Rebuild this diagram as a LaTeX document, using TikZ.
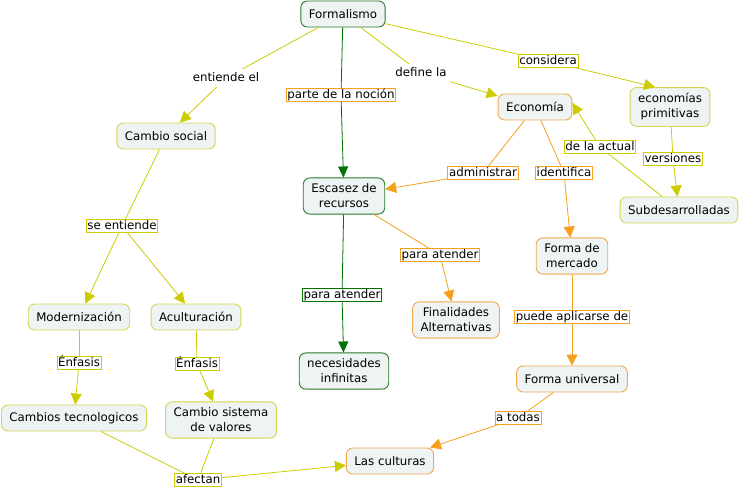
\documentclass[tikz,border=0pt]{standalone}
\usepackage{fontspec}
\setmainfont{DejaVu Sans}
\usetikzlibrary{arrows.meta}
\definecolor{yl}{RGB}{204,204,0}
\definecolor{ylb}{RGB}{214,214,80}
\definecolor{og}{RGB}{245,160,30}
\definecolor{ogb}{RGB}{240,170,80}
\definecolor{gn}{RGB}{0,115,0}
\definecolor{gnb}{RGB}{40,120,40}
\definecolor{nfill}{RGB}{238,243,243}
\tikzset{
  concept/.style={rounded corners=6.5pt, fill=nfill, line width=0.9pt, inner xsep=8pt, inner ysep=6pt,
    minimum height=26pt, align=center, font=\fontsize{11.8}{15}\selectfont},
  cy/.style={concept, draw=ylb},
  co/.style={concept, draw=ogb},
  cg/.style={concept, draw=gnb},
  lab/.style={fill=white, line width=0.7pt, inner xsep=1.2pt, inner ysep=0.6pt,
    text height=9pt, text depth=2.4pt, font=\fontsize{11.8}{14}\selectfont},
  ly/.style={lab, draw=yl},
  lo/.style={lab, draw=og},
  lg/.style={lab, draw=gn},
  lnone/.style={lab, fill=none, inner sep=3pt},
  ey/.style={draw=yl, line width=0.8pt},
  eo/.style={draw=og, line width=0.8pt},
  eg/.style={draw=gn, line width=0.8pt},
  ay/.style={ey, -{Triangle[length=11pt,width=11pt]}},
  ao/.style={eo, -{Triangle[length=11pt,width=11pt]}},
  ag/.style={eg, -{Triangle[length=11pt,width=10pt]}},
}
\begin{document}
\begin{tikzpicture}[x=1pt,y=-1pt]
\useasboundingbox[fill=white] (0,0) rectangle (741,488);
% concepts
\node[cg] (form) at (343,14) {Formalismo};
\node[cy] (csoc) at (166,136) {Cambio social};
\node[cg] (esc) at (344,196) {Escasez de\\recursos};
\node[co] (econ) at (535,107) {Economía};
\node[cy] (prim) at (670,107) {economías\\primitivas};
\node[cy] (subd) at (679,210) {Subdesarrolladas};
\node[co] (fmer) at (572,256) {Forma de\\mercado};
\node[co] (fin) at (456,320) {Finalidades\\Alternativas};
\node[cg] (nec) at (344,371) {necesidades\\infinitas};
\node[cy] (mod) at (79,317) {Modernización};
\node[cy] (acu) at (196,317) {Aculturación};
\node[cy] (ctec) at (74,418) {Cambios tecnologicos};
\node[cy] (csis) at (221,420) {Cambio sistema\\de valores};
\node[co] (funi) at (572,379) {Forma universal};
\node[co] (cult) at (390,461) {Las culturas};
% labels
\node[lnone] (l1) at (226,78) {entiende el};
\node[lo] (l2) at (341,95) {parte de la noción};
\node[lnone] (l3) at (421,73) {define la};
\node[ly] (l4) at (548,61) {considera};
\node[lo] (l5) at (483,173) {administrar};
\node[lo] (l6) at (564,173) {identifica};
\node[ly] (l7) at (600,147) {de la actual};
\node[ly] (l8) at (673,159) {versiones};
\node[ly] (l9) at (122,226) {se entiende};
\node[lo] (l10) at (440,255) {para atender};
\node[lg] (l11) at (342,295) {para atender};
\node[lo] (l12) at (572,317) {puede aplicarse de};
\node[ly] (l13) at (79,363) {Énfasis};
\node[ly] (l14) at (197,364) {Énfasis};
\node[lo] (l15) at (518,418) {a todas};
\node[ly] (l16) at (198,480) {afectan};
% connectors
\draw[ey] (form) -- (l1);
\draw[ay] (l1) -- (csoc);
\draw[eg] (form) -- (l2);
\draw[ag] (l2) -- (esc);
\draw[ey] (form) -- (l3);
\draw[ay] (l3) -- (econ);
\draw[ey] (form) -- (l4);
\draw[ay] (l4) -- ([xshift=-15pt]prim.north);
\draw[eo] (econ) -- (l5);
\draw[ao] (l5) -- (esc);
\draw[eo] (econ) -- (l6);
\draw[ao] (l6) -- (fmer);
\draw[ey] (subd) -- (l7);
\draw[ay] (l7) -- ([yshift=4pt]econ.east);
\draw[ey] (prim) -- (l8);
\draw[ay] (l8) -- (subd);
\draw[ey] (csoc) -- (l9);
\draw[ay] (l9) -- (mod);
\draw[ay] (l9) -- (acu);
\draw[eo] (esc) -- (l10);
\draw[ao] (l10) -- (fin);
\draw[eg] (esc) -- (l11);
\draw[ag] (l11) -- (nec);
\draw[eo] (fmer) -- (l12);
\draw[ao] (l12) -- (funi);
\draw[ey] (mod) -- (l13);
\draw[ay] (l13) -- (ctec);
\draw[ey] (acu) -- (l14);
\draw[ay] (l14) -- (csis);
\draw[eo] (funi) -- (l15);
\draw[ao] (l15) -- (cult);
\draw[ey] (ctec) -- (l16);
\draw[ey] (csis) -- (l16);
\draw[ay] (l16) -- (cult);
\end{tikzpicture}
\end{document}
